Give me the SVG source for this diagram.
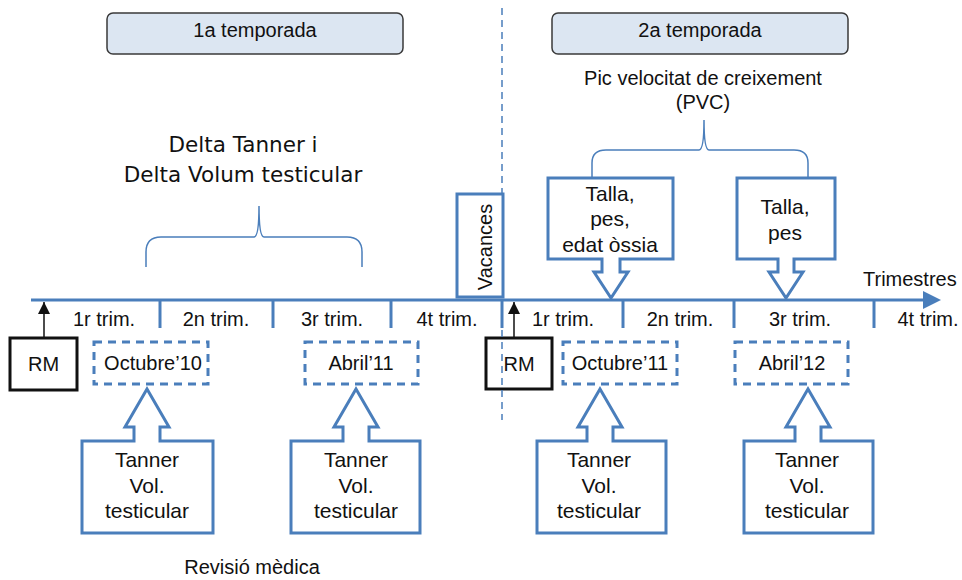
<svg xmlns="http://www.w3.org/2000/svg" width="962" height="580" viewBox="0 0 962 580">
  <style>
    .t { font-family: "Liberation Sans", Arial, sans-serif; font-size: 20px; fill: #111; }
    .m { text-anchor: middle; }
    .c { font-size: 21px; }
    .delta { font-family: "DejaVu Sans", Verdana, sans-serif; font-size: 21.5px; fill: #111; text-anchor: middle; }
    .blue { fill: #fff; stroke: #4a7ebb; stroke-width: 3; }
    .dash { fill: #fff; stroke: #4a7ebb; stroke-width: 3; stroke-dasharray: 8 6; }
    .brace { fill: none; stroke: #4a7ebb; stroke-width: 1.5; }
    .rm { fill: #fff; stroke: #111; stroke-width: 3; }
    .season { fill: #dce6f2; stroke: #3a3a3a; stroke-width: 1.5; }
    .tick { stroke: #4a7ebb; stroke-width: 3; }
  </style>
  <defs>
    <marker id="blackhead" markerWidth="12" markerHeight="12" refX="12" refY="6" orient="auto" markerUnits="userSpaceOnUse" viewBox="0 0 12 12">
      <path d="M0,0 L12,6 L0,12 Z" fill="#111"/>
    </marker>
  </defs>

  <rect width="962" height="580" fill="#fff"/>

  <!-- season headers -->
  <g id="season1">
    <rect class="season" x="107" y="13" width="296" height="41" rx="6"/>
    <text class="t m" x="255" y="37">1a temporada</text>
  </g>
  <g id="season2">
    <rect class="season" x="552" y="13" width="296" height="41" rx="6"/>
    <text class="t m" x="700" y="37">2a temporada</text>
  </g>

  <!-- connectors: timeline, ticks, braces, RM arrows -->
  <g id="connectors">
    <line x1="31" y1="300" x2="926" y2="300" class="tick"/>
    <path d="M923,291 L941,300 L923,309 Z" fill="#4a7ebb"/>
    <line class="tick" x1="160" y1="300" x2="160" y2="328"/>
    <line class="tick" x1="273" y1="300" x2="273" y2="328"/>
    <line class="tick" x1="391" y1="300" x2="391" y2="328"/>
    <line class="tick" x1="502" y1="300" x2="502" y2="328"/>
    <line class="tick" x1="623" y1="300" x2="623" y2="328"/>
    <line class="tick" x1="734" y1="300" x2="734" y2="328"/>
    <line class="tick" x1="874" y1="300" x2="874" y2="328"/>
    <path class="brace" d="M146,267 V252 Q146,237 161,237 H254 Q259,237 259,206 Q259,237 264,237 H347 Q362,237 362,252 V267"/>
    <path class="brace" d="M592,177 V163 Q592,150 606,150 H699 Q704,150 704,120 Q704,150 709,150 H794 Q808,150 808,163 V177"/>
    <line x1="44" y1="338" x2="44" y2="302" stroke="#111" stroke-width="1.5" marker-end="url(#blackhead)"/>
    <line x1="514" y1="338" x2="514" y2="302" stroke="#111" stroke-width="1.5" marker-end="url(#blackhead)"/>
  </g>

  <!-- quarter labels -->
  <g id="quarters">
    <text class="t m" x="104" y="326">1r trim.</text>
    <text class="t m" x="216" y="326">2n trim.</text>
    <text class="t m" x="332" y="326">3r trim.</text>
    <text class="t m" x="447" y="326">4t trim.</text>
    <text class="t m" x="563" y="326">1r trim.</text>
    <text class="t m" x="680" y="326">2n trim.</text>
    <text class="t m" x="800" y="326">3r trim.</text>
    <text class="t m" x="928" y="326">4t trim.</text>
    <text class="t" x="863" y="286">Trimestres</text>
  </g>

  <g id="vacances">
    <rect class="blue" x="457" y="194" width="46" height="103"/>
    <text class="t m" transform="translate(492,247) rotate(-90)">Vacances</text>
  </g>

  <g id="rm1">
    <rect class="rm" x="10" y="338" width="67" height="52"/>
    <text class="t m" x="43.5" y="371">RM</text>
  </g>
  <g id="rm2">
    <rect class="rm" x="486" y="338" width="66" height="51"/>
    <text class="t m" x="519" y="371">RM</text>
  </g>

  <!-- season divider, drawn over the boxes it crosses -->
  <g id="divider">
    <line x1="502" y1="8" x2="502" y2="194" stroke="#4a7ebb" stroke-width="1.5" stroke-dasharray="7 5"/>
    <line x1="502" y1="330" x2="502" y2="420" stroke="#4a7ebb" stroke-width="1.5" stroke-dasharray="7 5"/>
  </g>

  <g id="oct10">
    <rect class="dash" x="94" y="342" width="114" height="42"/>
    <text class="t m" x="153" y="370">Octubre’10</text>
  </g>
  <g id="abr11">
    <rect class="dash" x="305" y="342" width="113" height="42"/>
    <text class="t m" x="361" y="370">Abril’11</text>
  </g>
  <g id="oct11">
    <rect class="dash" x="563" y="342" width="114" height="42"/>
    <text class="t m" x="620" y="370">Octubre’11</text>
  </g>
  <g id="abr12">
    <rect class="dash" x="735" y="342" width="113" height="42"/>
    <text class="t m" x="792" y="370">Abril’12</text>
  </g>

  <!-- up-pointing callouts -->
  <g id="exam1">
    <path class="blue" d="M147,389 L169,427 H160 V441 H213 V533 H82 V441 H134 V427 H125 Z"/>
    <text class="t c m" x="147" y="467">Tanner</text>
    <text class="t c m" x="147" y="493">Vol.</text>
    <text class="t c m" x="147" y="518">testicular</text>
  </g>
  <g id="exam2">
    <path class="blue" d="M356,389 L378,427 H369 V441 H420 V533 H291 V441 H343 V427 H334 Z"/>
    <text class="t c m" x="356" y="467">Tanner</text>
    <text class="t c m" x="356" y="493">Vol.</text>
    <text class="t c m" x="356" y="518">testicular</text>
  </g>
  <g id="exam3">
    <path class="blue" d="M600,389 L622,427 H613 V441 H666 V533 H537 V441 H587 V427 H578 Z"/>
    <text class="t c m" x="599" y="467">Tanner</text>
    <text class="t c m" x="599" y="493">Vol.</text>
    <text class="t c m" x="599" y="518">testicular</text>
  </g>
  <g id="exam4">
    <path class="blue" d="M808,389 L830,427 H821 V441 H873 V533 H744 V441 H795 V427 H786 Z"/>
    <text class="t c m" x="807" y="467">Tanner</text>
    <text class="t c m" x="807" y="493">Vol.</text>
    <text class="t c m" x="807" y="518">testicular</text>
  </g>

  <!-- down-pointing callouts -->
  <g id="growth1">
    <path class="blue" d="M548,178 H673 V259 H620 V272 H628 L611,298 L594,272 H602 V259 H548 Z"/>
    <text class="t c m" x="610" y="201">Talla,</text>
    <text class="t c m" x="610" y="226">pes,</text>
    <text class="t c m" x="610" y="252">edat òssia</text>
  </g>
  <g id="growth2">
    <path class="blue" d="M737,178 H835 V259 H794 V272 H803 L786,298 L769,272 H778 V259 H737 Z"/>
    <text class="t c m" x="785" y="214">Talla,</text>
    <text class="t c m" x="785" y="240">pes</text>
  </g>

  <g id="pvc">
    <text class="t m" x="703" y="85">Pic velocitat de creixement</text>
    <text class="t m" x="703" y="109">(PVC)</text>
  </g>
  <g id="delta">
    <text class="delta" x="243" y="152">Delta Tanner i</text>
    <text class="delta" x="243" y="182">Delta Volum testicular</text>
  </g>
  <g id="revisio">
    <text class="t m" x="252" y="574">Revisió mèdica</text>
  </g>
</svg>
